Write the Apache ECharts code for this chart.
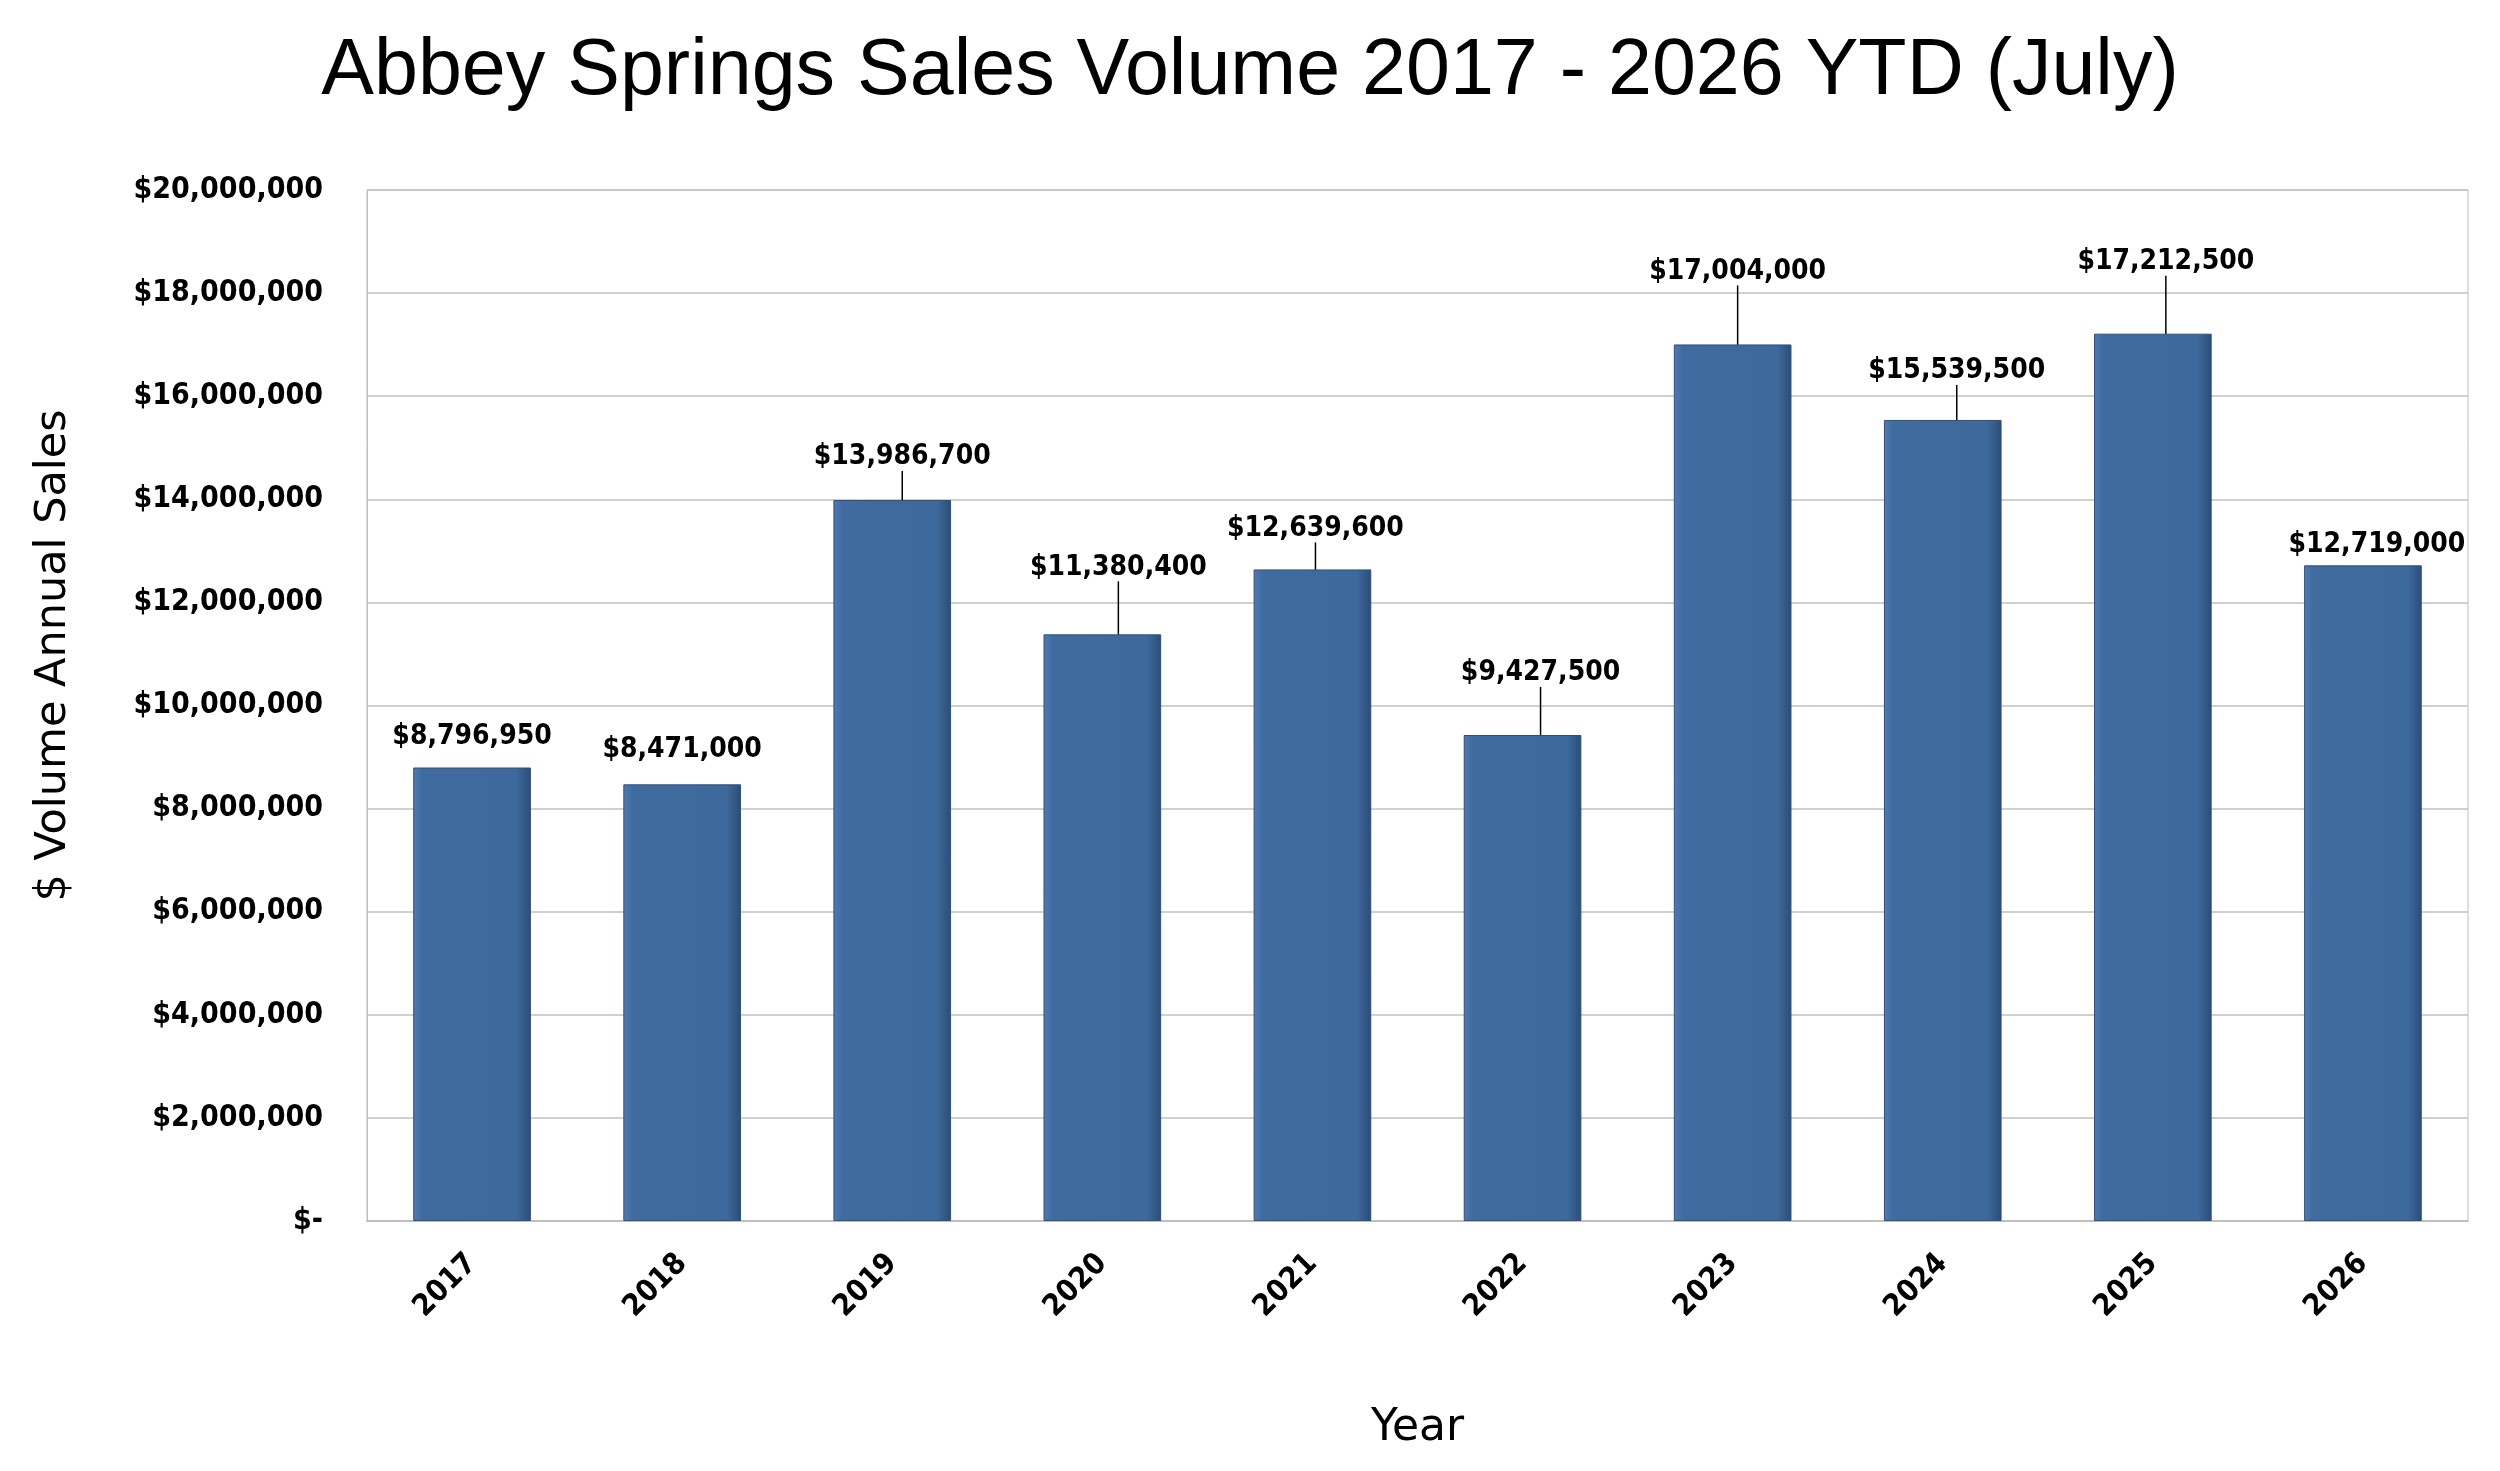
<!DOCTYPE html>
<html lang="en">
<head>
    <meta charset="UTF-8">
    <title>Abbey Springs Sales Volume</title>
    <script src="https://cdn.jsdelivr.net/npm/echarts@6/dist/echarts.min.js"></script>
    <style>
        html, body { margin: 0; padding: 0; background: #fff; }
        #main { width: 2500px; height: 1471px; }
    </style>
</head>
<body>
    <div id="main"></div>
    <script>
        // 数据
        var years = ['2017', '2018', '2019', '2020', '2021', '2022', '2023', '2024', '2025', '2026'];
        var volumes = [8796950, 8471000, 13986700, 11380400, 12639600, 9427500, 17004000, 15539500, 17212500, 12719000];
        // label nudges (px) so the leader lines look like the original
        var labelDx = [0, 0, 10, 16, 3, 18, 5, 14, 13, 14];
        var labelDy = [-12, -16, -24, -48, -22, -43, -54, -30, -53, -2];

        var boldFont = '"DejaVu Sans Condensed", "Liberation Sans Narrow", Arial, sans-serif';

        function money(v) {
            if (v === 0) return '$-';
            return '$' + String(v).replace(/\B(?=(\d{3})+(?!\d))/g, ',');
        }

        // short nudges get no leader line (Excel hides them too)
        var barData = [];
        for (var i = 0; i < volumes.length; i++) {
            barData.push({
                value: volumes[i],
                labelLine: { show: labelDy[i] < -20 }
            });
        }

        var myChart = echarts.init(document.getElementById('main'));

        var option = {
            backgroundColor: '#fff',
            animation: false,
            title: {
                text: 'Abbey Springs Sales Volume 2017 - 2026 YTD (July)',
                left: 'center',
                top: 28,
                textStyle: {
                    fontFamily: '"Liberation Sans", Arial, sans-serif',
                    fontWeight: 'normal',
                    fontSize: 79,
                    color: '#000'
                }
            },
            grid: {
                left: 367,
                right: 32,
                top: 190,
                bottom: 250,
                show: true,
                borderColor: '#bfbfbf',
                borderWidth: 1
            },
            xAxis: {
                type: 'category',
                data: years,
                name: 'Year',
                nameLocation: 'middle',
                nameGap: 186,
                nameTextStyle: {
                    fontFamily: '"DejaVu Sans", Verdana, sans-serif',
                    fontSize: 44,
                    color: '#000'
                },
                axisLine: { lineStyle: { color: '#bfbfbf', width: 2 } },
                axisTick: { show: false },
                axisLabel: {
                    rotate: 45,
                    margin: 38,
                    fontFamily: boldFont,
                    fontWeight: 'bold',
                    fontSize: 30,
                    color: '#000'
                }
            },
            yAxis: {
                type: 'value',
                min: 0,
                max: 20000000,
                interval: 2000000,
                name: '$ Volume Annual Sales',
                nameLocation: 'middle',
                nameGap: 292,
                nameTextStyle: {
                    fontFamily: '"DejaVu Sans", Verdana, sans-serif',
                    fontSize: 43,
                    color: '#000',
                    padding: [0, 0, 0, 100]
                },
                axisLine: { show: true, lineStyle: { color: '#bfbfbf', width: 1 } },
                axisTick: { show: false },
                splitLine: { lineStyle: { color: '#c0c0c0', width: 1.5 } },
                axisLabel: {
                    margin: 44,
                    fontFamily: boldFont,
                    fontWeight: 'bold',
                    fontSize: 30,
                    color: '#000',
                    formatter: money
                }
            },
            series: [
                {
                    name: 'Sales Volume',
                    type: 'bar',
                    barWidth: '56%',
                    data: barData,
                    itemStyle: {
                        color: new echarts.graphic.LinearGradient(0, 0, 1, 0, [
                            { offset: 0, color: '#4d7bb3' },
                            { offset: 0.08, color: '#3f6b9f' },
                            { offset: 0.88, color: '#3d699c' },
                            { offset: 1, color: '#2c4c76' }
                        ]),
                        borderColor: '#2f5079',
                        borderWidth: 1
                    },
                    label: {
                        show: true,
                        position: 'top',
                        distance: 5,
                        fontFamily: boldFont,
                        fontWeight: 'bold',
                        fontSize: 28,
                        color: '#000',
                        formatter: function (p) { return money(p.value); }
                    },
                    labelLine: {
                        show: true,
                        lineStyle: { color: '#000', width: 1.5 }
                    },
                    labelLayout: function (p) {
                        return { dx: labelDx[p.dataIndex], dy: labelDy[p.dataIndex] };
                    }
                }
            ]
        };

        myChart.setOption(option);
    </script>
</body>
</html>
